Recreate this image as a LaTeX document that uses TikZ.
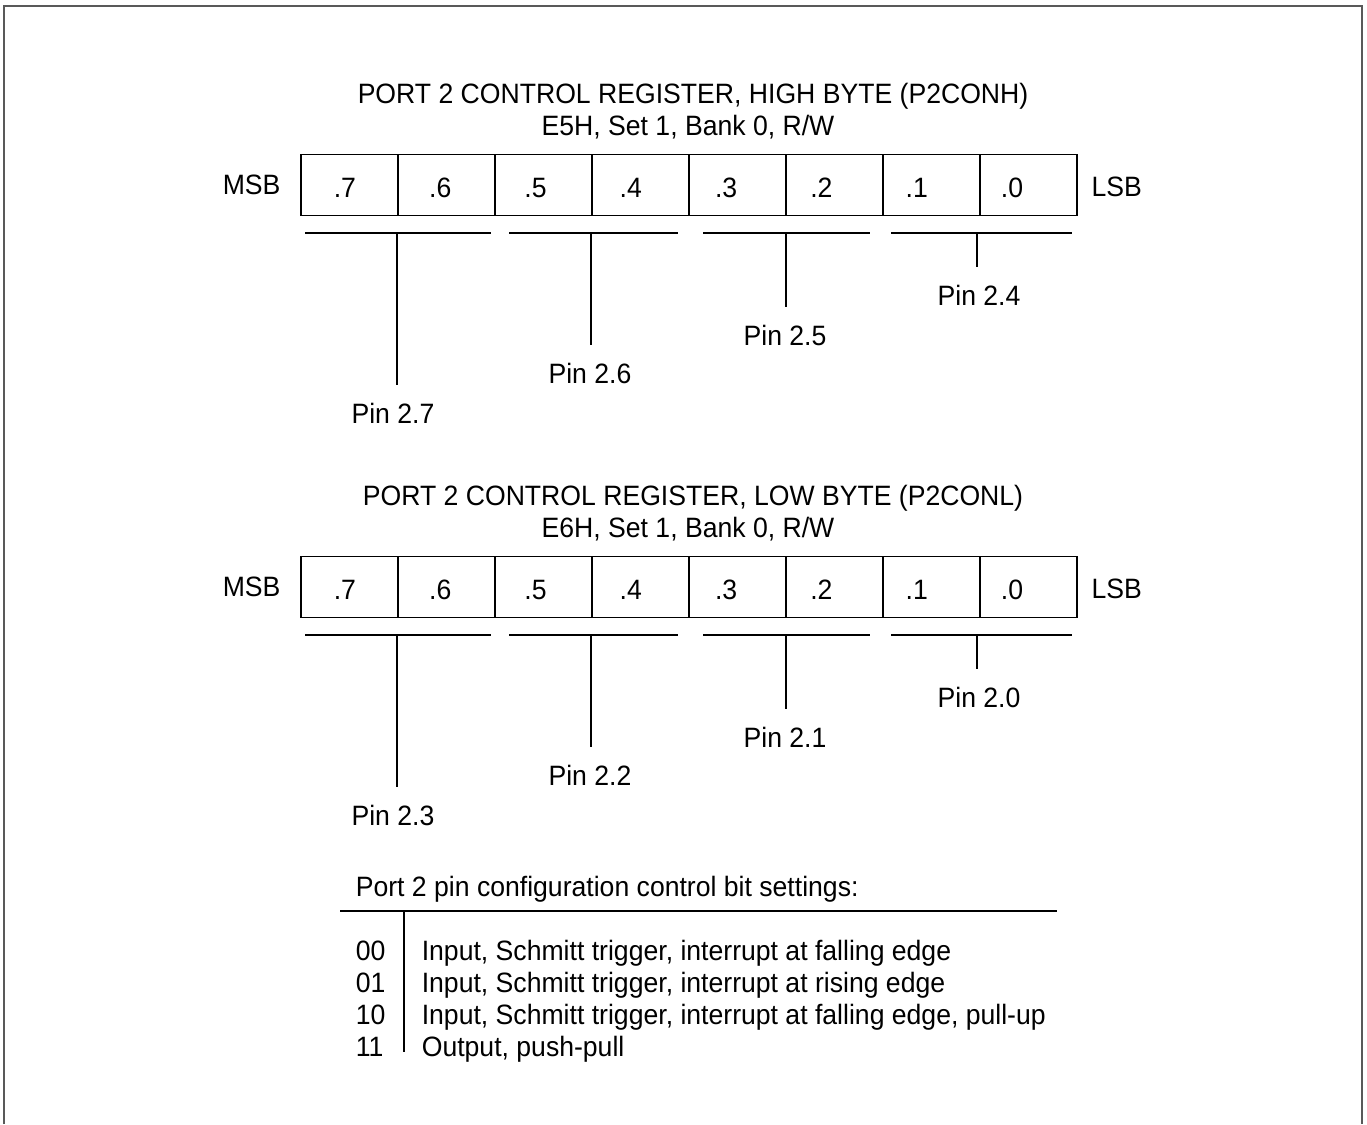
\documentclass[tikz,border=0pt]{standalone}
\usepackage{fontspec}
\setmainfont{Liberation Sans}[FakeStretch=0.95]
\usetikzlibrary{positioning}

\begin{document}
\begin{tikzpicture}[x=1pt,y=-1pt,line width=1.6pt,
 font=\fontsize{28}{32}\selectfont,
 cell/.style={draw,minimum width=97pt,minimum height=61pt,inner sep=0pt},
 txt/.style={inner sep=0pt,anchor=base},
 stem/.style={shorten >=17pt}]
\useasboundingbox (0,0) rectangle (1367,1124);
% frame, open at the bottom
\draw[line width=2pt,black!65] (4,1124) -- (4,6) -- (1362,6) -- (1362,1124);

% the two registers
\foreach \reg/\oy/\hl/\addr/\pa/\pb/\pc/\pd in {h/0/HIGH BYTE (P2CONH)/E5H/7/6/5/4, l/402/LOW BYTE (P2CONL)/E6H/3/2/1/0}{
 \node[txt] (\reg title) at (693,103+\oy) {PORT 2 CONTROL REGISTER, \hl};
 \node[txt] (\reg addr) at (688,135+\oy) {\addr, Set 1, Bank 0, R/W};
 \foreach \bit in {0,...,7}{
  \node[cell] (\reg\bit) at (1028.5-97*\bit,185+\oy) {};
  \node[txt] (\reg b\bit) at (1012-95.3*\bit,197+\oy) {.\bit};
 }
 \node[inner sep=0pt,left=19pt of \reg7] (\reg msb) {MSB};
 \node[inner sep=0pt,right=13pt of \reg0,yshift=-2pt] (\reg lsb) {LSB};
 \foreach \bl/\br/\sx/\lx/\lb/\pn in {305/491/397/393/190/\pa, 509/678/591/590/150/\pb, 703/870/786/785/112/\pc, 891/1072/977/979/72/\pd}{
  \draw (\bl,233+\oy) -- (\br,233+\oy);
  \coordinate (\reg s\pn) at (\sx,233+\oy);
  \node[txt] (\reg p\pn) at (\lx,233+\oy+\lb) {Pin 2.\pn};
  \draw[stem] (\reg s\pn) -- (\reg s\pn |- \reg p\pn.north);
 }
}

% bit settings table
\node[txt,anchor=base west] (settitle) at (355,896) {Port 2 pin configuration control bit settings:};
\draw (340,911) -- (1057,911);
\draw[line width=2pt] (404,911) -- (404,1052);
\foreach \code/\desc [count=\k] in {00/{Input, Schmitt trigger, interrupt at falling edge},
 01/{Input, Schmitt trigger, interrupt at rising edge},
 10/{Input, Schmitt trigger, interrupt at falling edge, pull-up},
 11/{Output, push-pull}}{
 \node[txt,anchor=base west] (code\k) at (355,928+32*\k) {\code};
 \node[txt,anchor=base west] (desc\k) at (421,928+32*\k) {\desc};
}
\end{tikzpicture}
\end{document}
